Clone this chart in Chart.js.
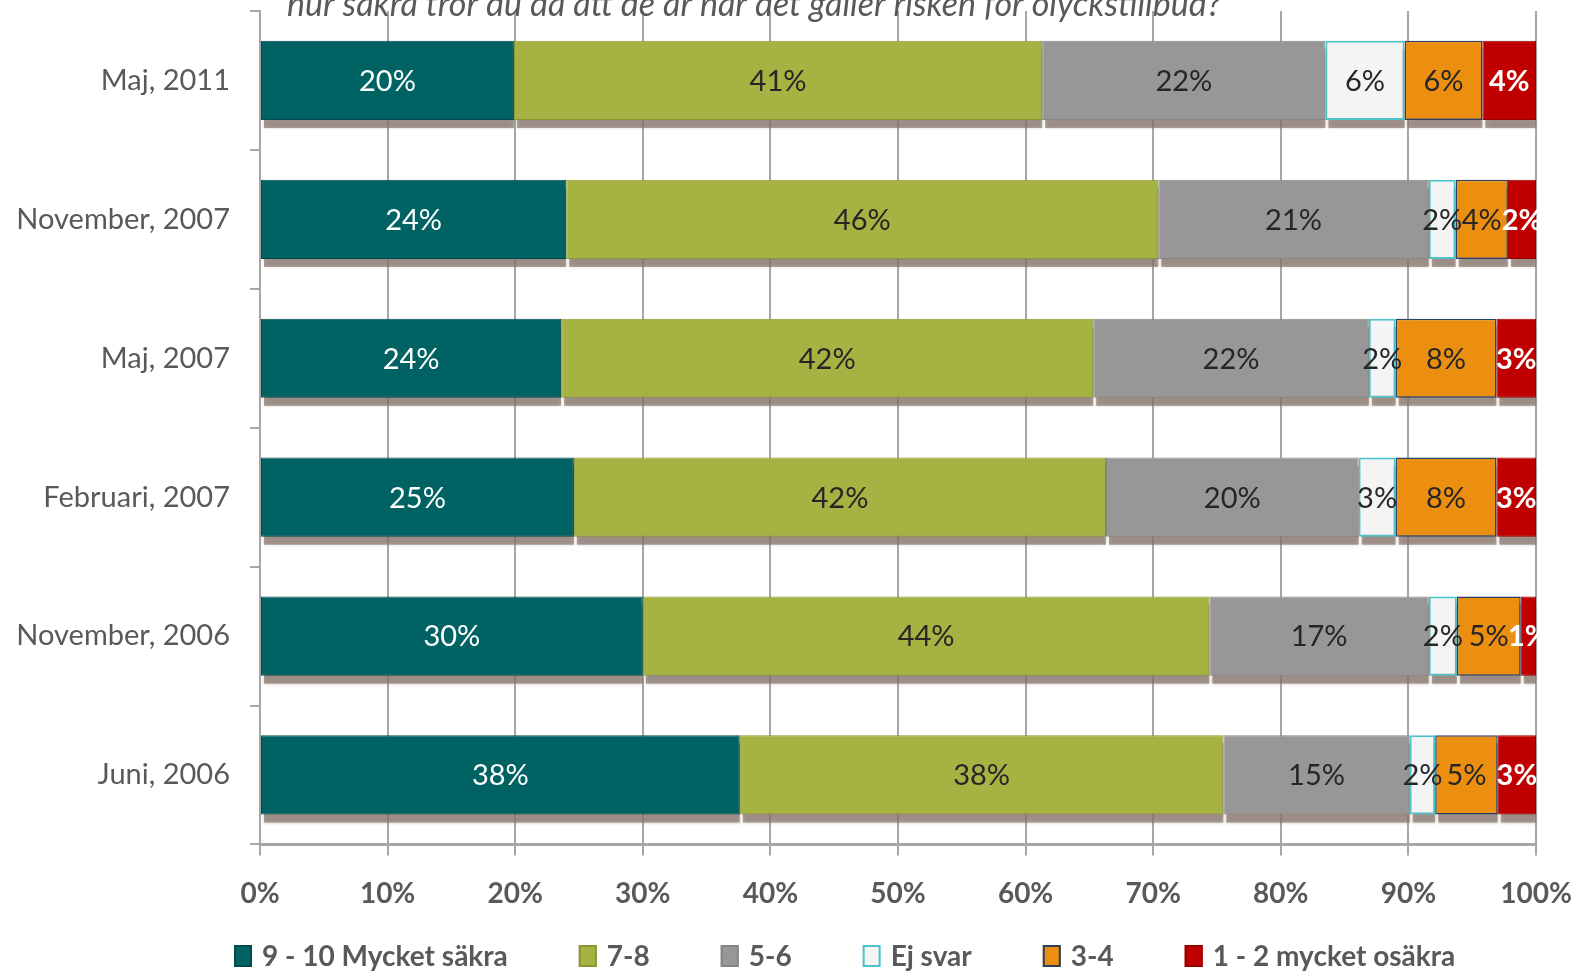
<!DOCTYPE html>
<html>
<head>
<meta charset="utf-8">
<script src="https://cdn.jsdelivr.net/npm/chart.js@4/dist/chart.umd.min.js"></script>
<style>
  html, body { margin: 0; padding: 0; background: #fff; }
  #wrap { width: 1581px; height: 973px; position: relative; }
</style>
</head>
<body>
<div id="wrap"><canvas id="c"></canvas></div>
<script>
// ---- data ----
const periods = ['Maj, 2011', 'November, 2007', 'Maj, 2007', 'Februari, 2007', 'November, 2006', 'Juni, 2006'];
const seriesNames = ['9 - 10 Mycket säkra', '7-8', '5-6', 'Ej svar', '3-4', '1 - 2 mycket osäkra'];
const safe910   = [19.9, 24.0, 23.6, 24.6, 30.0, 37.6];
const safe78    = [41.4, 46.4, 41.7, 41.7, 44.4, 37.9];
const safe56    = [22.2, 21.2, 21.6, 19.8, 17.2, 14.6];
const noAnswer  = [6.2, 2.1, 2.1, 2.9, 2.2, 2.0];
const unsafe34  = [6.1, 4.1, 7.9, 7.9, 5.0, 4.9];
const unsafe12  = [4.2, 2.2, 3.1, 3.1, 1.2, 3.0];
const xTicks = [0, 10, 20, 30, 40, 50, 60, 70, 80, 90, 100];
const titleText = 'hur säkra tror du då att de är när det gäller risken för olyckstillbud?';

const FONT = 'Lato, "Open Sans", sans-serif';
const GREY_TXT = '#595959';

const styles = [
  { bg: '#006262', border: '#004a4a', bw: 1, label: '#ffffff', bold: false },
  { bg: '#a6b342', border: '#8a9634', bw: 1, label: '#262626', bold: false },
  { bg: '#979797', border: '#858585', bw: 1, label: '#262626', bold: false },
  { bg: '#f4f4f4', border: '#4cc3c9', bw: 2, label: '#262626', bold: false },
  { bg: '#ec8f10', border: '#2b3f63', bw: 1.5, label: '#262626', bold: false },
  { bg: '#c00000', border: '#9a0000', bw: 1, label: '#ffffff', bold: true }
];
const values = [safe910, safe78, safe56, noAnswer, unsafe34, unsafe12];

const datasets = values.map((v, i) => ({
  label: seriesNames[i],
  data: v,
  backgroundColor: styles[i].bg,
  borderColor: styles[i].border,
  borderWidth: styles[i].bw,
  borderSkipped: false,
  barPercentage: 0.57,
  categoryPercentage: 1.0
}));

// brownish drop shadow under each bar segment
const shadowPlugin = {
  id: 'barShadow',
  beforeDatasetsDraw(chart) {
    const ctx = chart.ctx;
    ctx.save();
    ctx.fillStyle = 'rgba(130, 112, 102, 0.65)';
    ctx.shadowColor = 'rgba(130, 112, 102, 0.6)';
    ctx.shadowBlur = 3;
    chart.data.datasets.forEach((ds, i) => {
      chart.getDatasetMeta(i).data.forEach(bar => {
        const left = Math.min(bar.x, bar.base);
        const w = Math.abs(bar.x - bar.base);
        ctx.fillRect(left + 3, bar.y - bar.height / 2 + 8, w - 3, bar.height);
      });
    });
    ctx.restore();
  }
};

// percentage labels in bar centres
const labelPlugin = {
  id: 'segLabels',
  afterDatasetsDraw(chart) {
    const ctx = chart.ctx;
    ctx.save();
    ctx.textAlign = 'center';
    ctx.textBaseline = 'middle';
    chart.data.datasets.forEach((ds, i) => {
      const meta = chart.getDatasetMeta(i);
      meta.data.forEach((bar, j) => {
        const st = styles[i];
        ctx.font = (st.bold ? 'bold ' : '') + '29px ' + FONT;
        ctx.fillStyle = st.label;
        const cx = (bar.x + bar.base) / 2;
        ctx.fillText(Math.round(ds.data[j]) + '%', cx, bar.y + 1);
      });
    });
    ctx.restore();
  }
};

// title (cut off at top edge) and legend row
const extrasPlugin = {
  id: 'extras',
  afterDraw(chart) {
    const ctx = chart.ctx;
    ctx.save();
    ctx.font = 'italic 34px ' + FONT;
    ctx.fillStyle = GREY_TXT;
    ctx.textAlign = 'left';
    ctx.textBaseline = 'alphabetic';
    ctx.fillText(titleText, 287, 16);

    // legend
    ctx.font = 'bold 28px ' + FONT;
    ctx.textBaseline = 'middle';
    let x = 234;
    const cy = 956;
    chart.data.datasets.forEach((ds, i) => {
      ctx.fillStyle = ds.backgroundColor;
      ctx.fillRect(x, cy - 11, 18, 22);
      ctx.strokeStyle = ds.borderColor;
      ctx.lineWidth = 2;
      ctx.strokeRect(x + 1, cy - 10, 16, 20);
      ctx.fillStyle = GREY_TXT;
      ctx.fillText(ds.label, x + 28, cy + 1);
      x += 28 + ctx.measureText(ds.label).width + 71;
    });
    ctx.restore();
  }
};

new Chart(document.getElementById('c'), {
  type: 'bar',
  data: { labels: periods, datasets: datasets },
  plugins: [shadowPlugin, labelPlugin, extrasPlugin],
  options: {
    indexAxis: 'y',
    responsive: true,
    maintainAspectRatio: false,
    animation: false,
    layout: { padding: { top: 11, left: 4, right: 45, bottom: 40 } },
    plugins: {
      tooltip: { enabled: false },
      legend: { display: false }
    },
    scales: {
      x: {
        stacked: true,
        min: 0,
        max: 100,
        afterBuildTicks(axis) { axis.ticks = xTicks.map(v => ({ value: v })); },
        afterFit(scale) {
          scale.paddingLeft = 0;
          scale.paddingRight = 0;
        },
        grid: { color: '#a6a6a6', lineWidth: 2, tickLength: 11, drawTicks: true },
        border: { color: '#a6a6a6', width: 3 },
        ticks: {
          color: GREY_TXT,
          padding: 22,
          font: { size: 28, family: FONT, weight: 'bold' },
          callback: v => v + '%'
        }
      },
      y: {
        stacked: true,
        afterFit(scale) {
          scale.width = 256;
          scale.paddingTop = 0;
          scale.paddingBottom = 0;
        },
        grid: { display: true, drawOnChartArea: false, color: '#a6a6a6', lineWidth: 2, tickLength: 10, offset: true },
        border: { color: '#a6a6a6', width: 2 },
        ticks: {
          color: GREY_TXT,
          padding: 20,
          font: { size: 29, family: FONT }
        }
      }
    }
  }
});
</script>
</body>
</html>
